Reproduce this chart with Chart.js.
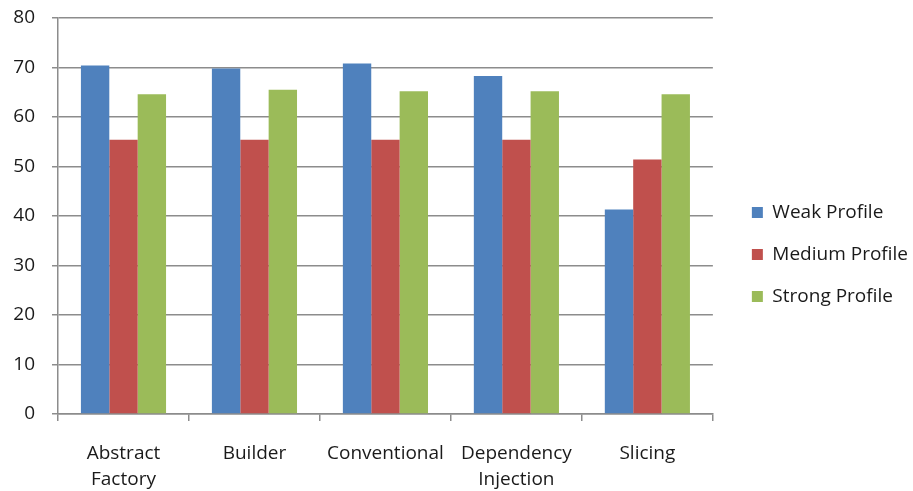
<!DOCTYPE html>
<html>
<head>
<meta charset="utf-8">
<script src="https://cdn.jsdelivr.net/npm/chart.js@4"></script>
<style>
  html, body { margin: 0; padding: 0; background: #fff; }
  #wrap { width: 913px; height: 491px; }
</style>
</head>
<body>
<div id="wrap"><canvas id="myChart" width="913" height="491"></canvas></div>
<script>
'use strict'
// categories and series
let categories = [['Abstract', 'Factory'], 'Builder', 'Conventional', ['Dependency', 'Injection'], 'Slicing'];
let weakProfile = [70.4, 69.8, 70.8, 68.3, 41.3];
let mediumProfile = [55.4, 55.4, 55.4, 55.4, 51.4];
let strongProfile = [64.6, 65.5, 65.2, 65.2, 64.6];
let yTicks = [0, 10, 20, 30, 40, 50, 60, 70, 80];

let gridColor = '#8c8c8c';
let textColor = '#1a1a1a';
let fontFamily = '"Open Sans", Lato, sans-serif';

// push the legend a bit away from the plot, like the original
let legendShift = {
    id: 'legendShift',
    afterLayout: function (chart) {
        chart.legend.left += 16;
        chart.legend.right += 16;
    }
};

var ctx = document.getElementById('myChart').getContext('2d');
var myChart = new Chart(ctx, {
    type: 'bar',
    data: {
        labels: categories,
        datasets: [{
            label: 'Weak Profile',
            data: weakProfile,
            backgroundColor: '#4F81BD'
        }, {
            label: 'Medium Profile',
            data: mediumProfile,
            backgroundColor: '#C0504D'
        }, {
            label: 'Strong Profile',
            data: strongProfile,
            backgroundColor: '#9BBB59'
        }]
    },
    plugins: [legendShift],
    options: {
        responsive: false,
        animation: false,
        layout: {
            padding: { left: 13, top: 18, right: 11, bottom: 0 }
        },
        datasets: {
            bar: { categoryPercentage: 0.65, barPercentage: 1.0 }
        },
        plugins: {
            tooltip: { enabled: false },
            legend: {
                position: 'right',
                labels: {
                    boxWidth: 11,
                    boxHeight: 11,
                    padding: 23,
                    color: textColor,
                    font: { family: fontFamily, size: 19 }
                }
            }
        },
        scales: {
            x: {
                offset: true,
                afterFit: function (scale) {
                    scale.height = 77;
                },
                grid: {
                    offset: true,
                    drawOnChartArea: false,
                    drawTicks: true,
                    tickLength: 7,
                    color: gridColor,
                    lineWidth: 1.5
                },
                border: { color: gridColor, width: 1.5 },
                ticks: {
                    padding: 20,
                    maxRotation: 0,
                    color: textColor,
                    font: { family: fontFamily, size: 19, lineHeight: 1.37 }
                }
            },
            y: {
                min: 0,
                max: 80,
                afterBuildTicks: function (axis) {
                    axis.ticks = yTicks.map(function (v) { return { value: v }; });
                },
                afterFit: function (scale) {
                    scale.width = 45;
                    scale.paddingTop = 0;
                    scale.paddingBottom = 0;
                },
                grid: {
                    color: gridColor,
                    lineWidth: 1.5,
                    drawTicks: true,
                    tickLength: 6
                },
                border: { color: gridColor, width: 1.5 },
                ticks: {
                    padding: 17,
                    color: textColor,
                    font: { family: fontFamily, size: 19 }
                }
            }
        }
    }
});
</script>
</body>
</html>
